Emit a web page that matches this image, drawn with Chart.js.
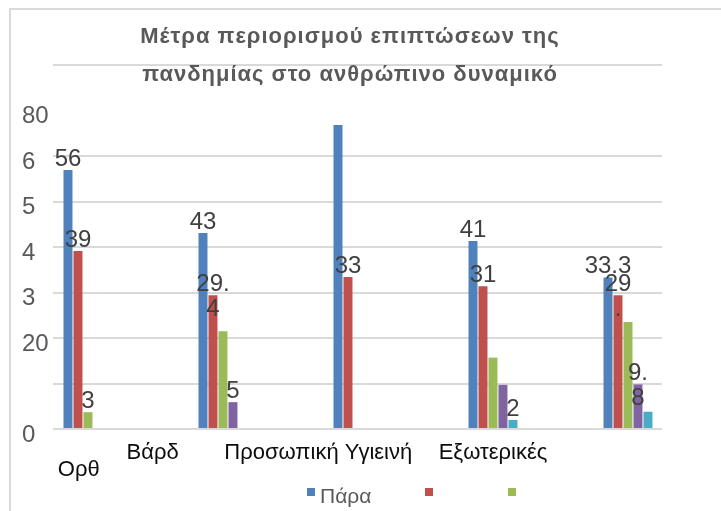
<!DOCTYPE html>
<html>
<head>
<meta charset="utf-8">
<script src="https://cdn.jsdelivr.net/npm/chart.js@4.4.1/dist/chart.umd.min.js"></script>
<style>
  body { margin: 0; background: #fff; }
</style>
</head>
<body>
<canvas id="grafica" width="721" height="511"></canvas>
<script>
//Datos
const categorias = ['Ορθ', 'Βάρδ', 'Προσωπική Υγιεινή', 'Εξωτερικές', ''];
const nombresSeries = ['Πάρα', '', '', '', ''];
const valoresSerie1 = [56.9, 43.1, 66.8, 41.3, 33.3];
const valoresSerie2 = [39.1, 29.4, 33.4, 31.4, 29.4];
const valoresSerie3 = [3.7, 21.5, null, 15.7, 23.5];
const valoresSerie4 = [null, 5.9, null, 9.7, 9.8];
const valoresSerie5 = [null, null, null, 2.0, 3.8];

//Textos de las etiquetas tal como se ven
const etiquetasSerie1 = ['56', '43', '', '41', '33.3'];
const etiquetasSerie2 = ['39', '29.\n4', '33', '31', '29\n.'];
const etiquetasSerie3 = ['3', '', '', '', ''];
const etiquetasSerie4 = ['', '5', '', '', '9.\n8'];
const etiquetasSerie5 = ['', '', '', '2', ''];

const etiquetasEjeY = ['0', '', '20', '3', '4', '5', '6', '80', ''];
const tituloLineas = ['Μέτρα περιορισμού επιπτώσεων της', 'πανδημίας στο ανθρώπινο δυναμικό'];

const colores = ['#4f81bd', '#c0504d', '#9bbb59', '#8064a2', '#4bacc6'];
const valores = [valoresSerie1, valoresSerie2, valoresSerie3, valoresSerie4, valoresSerie5];
const etiquetas = [etiquetasSerie1, etiquetasSerie2, etiquetasSerie3, etiquetasSerie4, etiquetasSerie5];

//corrimiento a la izquierda de cada nombre de categoria (en espacios)
const espaciosCategoria = [3, 23, 13, 0, 0];

const datasets = valores.map((serie, i) => ({
  label: nombresSeries[i],
  data: serie.map((v, j) => ({ x: j, y: v })),
  backgroundColor: colores[i],
  categoryPercentage: 0.37,
  barPercentage: 0.9
}));

//Marco del grafico
const pluginMarco = {
  id: 'marco',
  beforeDraw(chart) {
    const ctx = chart.ctx;
    ctx.save();
    ctx.fillStyle = '#ffffff';
    ctx.fillRect(0, 0, chart.width, chart.height);
    ctx.strokeStyle = '#d9d9d9';
    ctx.lineWidth = 2;
    ctx.beginPath();
    ctx.moveTo(10, chart.height);
    ctx.lineTo(10, 9);
    ctx.lineTo(chart.width, 9);
    ctx.stroke();
    ctx.restore();
  }
};

//Etiquetas de datos
const pluginEtiquetas = {
  id: 'etiquetas',
  afterDatasetsDraw(chart) {
    const ctx = chart.ctx;
    ctx.save();
    ctx.font = '24px "Liberation Sans", Arial, sans-serif';
    ctx.fillStyle = '#404040';
    ctx.textAlign = 'center';
    ctx.textBaseline = 'alphabetic';
    chart.data.datasets.forEach((ds, i) => {
      const meta = chart.getDatasetMeta(i);
      meta.data.forEach((bar, j) => {
        const texto = etiquetas[i][j];
        if (!texto || valores[i][j] === null) return;
        texto.split('\n').forEach((linea, k) => {
          ctx.fillText(linea, bar.x, bar.y - 4 + k * 25);
        });
      });
    });
    ctx.restore();
  }
};

//Titulo y leyenda
const pluginTituloLeyenda = {
  id: 'tituloLeyenda',
  afterDraw(chart) {
    const ctx = chart.ctx;
    ctx.save();
    ctx.font = 'bold 22px "Liberation Sans", Arial, sans-serif';
    ctx.letterSpacing = '1px';
    ctx.fillStyle = '#595959';
    ctx.textAlign = 'center';
    ctx.fillText(tituloLineas[0], 350, 43);
    ctx.fillText(tituloLineas[1], 350, 81);
    ctx.letterSpacing = '0px';

    //leyenda (solo se ven las tres primeras)
    const posX = [307, 425, 508];
    ctx.font = '21px "Liberation Sans", Arial, sans-serif';
    ctx.textAlign = 'left';
    ctx.textBaseline = 'middle';
    posX.forEach((x, i) => {
      ctx.fillStyle = colores[i];
      ctx.fillRect(x, 488, 8, 8);
      ctx.fillStyle = '#595959';
      ctx.fillText(nombresSeries[i], x + 13, 497);
    });
    ctx.restore();
  }
};

const grafica = new Chart(document.getElementById('grafica'), {
  type: 'bar',
  data: { datasets: datasets },
  options: {
    responsive: false,
    animation: false,
    devicePixelRatio: 1,
    layout: { padding: { left: 22, right: 59, top: 65, bottom: 0 } },
    plugins: {
      legend: { display: false },
      title: { display: false },
      tooltip: { enabled: false }
    },
    scales: {
      x: {
        type: 'linear',
        offset: false,
        min: -0.259,
        max: 4.252,
        grid: { display: false, drawTicks: false },
        border: { display: false },
        afterBuildTicks: (scale) => { scale.ticks = categorias.map((c, i) => ({ value: i })); },
        afterFit: (scale) => { scale.height = 82; },
        ticks: {
          padding: 15,
          maxRotation: 0,
          autoSkip: false,
          color: '#0d0d0d',
          font: { family: '"Liberation Sans", Arial, sans-serif', size: 22, lineHeight: 0.8 },
          callback: (v) => {
            const texto = categorias[v] + ' '.repeat(espaciosCategoria[v]);
            return v === 0 ? ['', texto] : texto;
          }
        }
      },
      y: {
        min: 0,
        max: 80,
        grid: {
          drawTicks: false,
          lineWidth: 2,
          color: (c) => (c.tick && c.tick.value === 70 ? 'rgba(0,0,0,0)' : '#d9d9d9')
        },
        border: { display: false },
        afterFit: (scale) => { scale.width = 31; },
        ticks: {
          stepSize: 10,
          crossAlign: 'far',
          labelOffset: 6,
          color: '#595959',
          font: { family: '"Liberation Sans", Arial, sans-serif', size: 24 },
          callback: (v) => etiquetasEjeY[v / 10]
        }
      }
    }
  },
  plugins: [pluginMarco, pluginEtiquetas, pluginTituloLeyenda]
});
</script>
</body>
</html>
